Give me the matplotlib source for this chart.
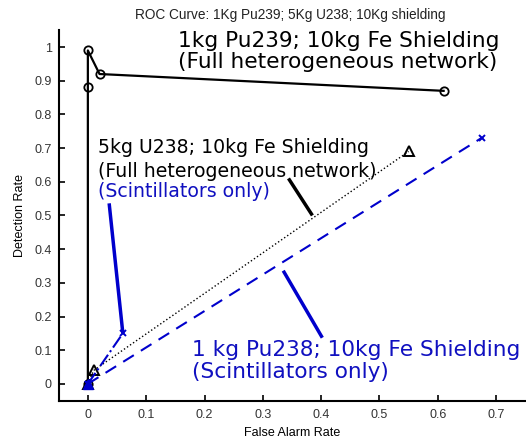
import matplotlib
matplotlib.use("Agg")
import matplotlib.pyplot as plt

# ---- データ ----
pu239_full_far = [0, 0, 0, 0.02, 0.61]
pu239_full_det = [0, 0.88, 0.99, 0.92, 0.87]

u238_full_far = [0, 0.01, 0.55]
u238_full_det = [0, 0.04, 0.69]

u238_scint_far = [0, 0.06]
u238_scint_det = [0, 0.15]

pu238_scint_far = [0, 0.675]
pu238_scint_det = [0, 0.73]

xticks = [0, 0.1, 0.2, 0.3, 0.4, 0.5, 0.6, 0.7]
yticks = [0, 0.1, 0.2, 0.3, 0.4, 0.5, 0.6, 0.7, 0.8, 0.9, 1]

BLUE = "#0000cc"
TXT_BLUE = "#1010c0"
SMALL = ["Liberation Sans", "DejaVu Sans"]

fig = plt.figure(figsize=(5.26, 4.40), dpi=100)
ax = fig.add_axes([0.1116, 0.0893, 0.887, 0.842])

# ---- 曲線 ----
ax.plot(pu239_full_far, pu239_full_det, "k-", lw=1.6, marker="o",
        mfc="none", mec="k", ms=6, mew=1.3)
ax.plot(u238_full_far, u238_full_det, "k:", lw=1.0, marker="^",
        mfc="none", mec="k", ms=7, mew=1.4)
ax.plot(u238_scint_far, u238_scint_det, color=BLUE, ls="-.", lw=1.5,
        marker="x", ms=5, mew=1.4)
ax.plot(pu238_scint_far, pu238_scint_det, color=BLUE, ls=(0, (6, 4)), lw=1.5,
        marker="x", ms=5, mew=1.4)
ax.plot([0], [0], marker="^", color=BLUE, ms=7)

# ---- 軸 ----
ax.set_xlim(-0.05, 0.75)
ax.set_ylim(-0.05, 1.05)
ax.set_xticks(xticks)
ax.set_yticks(yticks)
ax.set_xticklabels([f"{v:g}" for v in xticks], family=SMALL, fontsize=9, color="#333333")
ax.set_yticklabels([f"{v:g}" for v in yticks], family=SMALL, fontsize=9, color="#333333")
ax.tick_params(direction="in", length=4, width=1.2)
ax.tick_params(axis="x", pad=6)
ax.tick_params(axis="y", pad=5)
for s in ["top", "right"]:
    ax.spines[s].set_visible(False)
for s in ["left", "bottom"]:
    ax.spines[s].set_linewidth(1.5)

ax.set_xlabel("False Alarm Rate", family=SMALL, fontsize=9, labelpad=4)
ax.set_ylabel("Detection Rate", family=SMALL, fontsize=9, labelpad=6)
fig.text(0.551, 0.966, "ROC Curve: 1Kg Pu239; 5Kg U238; 10Kg shielding",
         family=SMALL, fontsize=9.8, ha="center", va="center", color="#222222")

# ---- 注釈 ----
ax.text(0.155, 1.0, "1kg Pu239; 10kg Fe Shielding", fontsize=15.6, va="baseline")
ax.text(0.155, 0.9375, "(Full heterogeneous network)", fontsize=15.6, va="baseline")

ax.text(0.018, 0.685, "5kg U238; 10kg Fe Shielding", fontsize=13.6, va="baseline")
ax.text(0.018, 0.613, "(Full heterogeneous network)", fontsize=13.6, va="baseline")
ax.text(0.018, 0.554, "(Scintillators only)", fontsize=13.6, va="baseline", color=TXT_BLUE)

ax.text(0.179, 0.083, "1 kg Pu238; 10kg Fe Shielding", fontsize=15.6, va="baseline", color=TXT_BLUE)
ax.text(0.179, 0.018, "(Scintillators only)", fontsize=15.6, va="baseline", color=TXT_BLUE)

ax.plot([0.344, 0.385], [0.61, 0.50], color="k", lw=2.5, solid_capstyle="butt")
ax.plot([0.0365, 0.06], [0.536, 0.15], color=BLUE, lw=2.5, solid_capstyle="butt")
ax.plot([0.335, 0.402], [0.336, 0.137], color=BLUE, lw=2.5, solid_capstyle="butt")

fig.savefig("out.png", dpi=100)
